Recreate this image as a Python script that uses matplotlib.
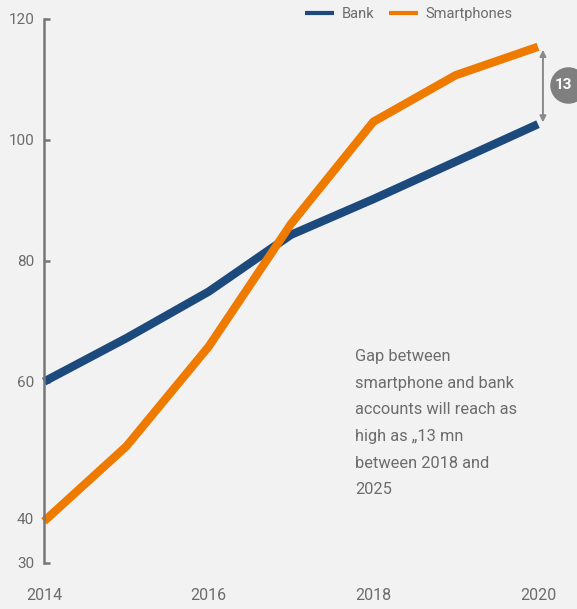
import matplotlib
matplotlib.use("Agg")
import matplotlib.pyplot as plt

plt.rcParams['font.family'] = ['Roboto', 'DejaVu Sans']

years = [2014, 2015, 2016, 2017, 2018, 2019, 2020]
bank = [60.0, 67.2, 74.9, 84.3, 90.2, 96.4, 102.6]
smartphones = [36.9, 49.3, 65.8, 86.1, 103.0, 110.7, 115.4]

xticks = [2014, 2016, 2018, 2020]
xtick_labels = ["2014", "2016", "2018", "2020"]
yticks = [30, 37.4, 60, 80, 100, 120]
ytick_labels = ["30", "40", "60", "80", "100", "120"]

gap_label = "13"
note = "Gap between\nsmartphone and bank\naccounts will reach as\nhigh as \u201e13 mn\nbetween 2018 and\n2025"

BG = "#f2f2f2"
BLUE = "#1d4a7c"
ORANGE = "#ef7a00"
GREY_TXT = "#6c6c6c"
AXIS = "#777777"

fig = plt.figure(figsize=(5.77, 6.09), dpi=100, facecolor=BG)
ax = fig.add_axes([44/577, 1 - 563/609, 494/577, 544/609])
ax.set_facecolor(BG)

ax.plot(years, bank, color=BLUE, lw=6, solid_capstyle='butt', solid_joinstyle='round', label="Bank", clip_on=False)
ax.plot(years, smartphones, color=ORANGE, lw=6, solid_capstyle='butt', solid_joinstyle='round', label="Smartphones", clip_on=False)

ax.set_xlim(2014, 2020)
ax.set_ylim(30, 120)

for s in ['top', 'right', 'bottom']:
    ax.spines[s].set_visible(False)
ax.spines['left'].set_color(AXIS)
ax.spines['left'].set_linewidth(1.8)

ax.set_yticks(yticks)
ax.set_yticklabels(ytick_labels)
ax.set_xticks(xticks)
ax.set_xticklabels(xtick_labels)
ax.tick_params(axis='y', direction='in', length=4, width=1.8, color=AXIS,
               labelcolor=GREY_TXT, labelsize=11, pad=7)
ax.tick_params(axis='x', length=0, labelcolor=GREY_TXT, labelsize=11.5, pad=18)

# gap arrow
ax.annotate("", xy=(2020.06, smartphones[-1] - 0.5), xytext=(2020.06, bank[-1] + 0.3),
            arrowprops=dict(arrowstyle='<|-|>', color='#8a8a8a', lw=1.4,
                            mutation_scale=9, shrinkA=0, shrinkB=0),
            annotation_clip=False)
mid = (smartphones[-1] + bank[-1]) / 2
ax.scatter([2020.37], [mid], s=690, color='#7f7f7f', clip_on=False, zorder=5, linewidths=0)
ax.text(2020.31, mid, gap_label, color='white', fontsize=11, fontweight='bold',
        ha='center', va='center', zorder=6, clip_on=False)

ax.text(2017.78, 65.4, note, color=GREY_TXT, fontsize=11.8, ha='left', va='top',
        linespacing=1.97)

leg = ax.legend(loc='upper left', bbox_to_anchor=(305/577, 1 - 7/609),
                bbox_transform=fig.transFigure, ncol=2, frameon=False,
                fontsize=10.5, handlelength=2.0, handletextpad=0.5, columnspacing=1.0,
                borderaxespad=0, borderpad=0)
for t in leg.get_texts():
    t.set_color(GREY_TXT)
for h in leg.legend_handles:
    h.set_linewidth(3)

fig.savefig("out.png", dpi=100, facecolor=BG)
